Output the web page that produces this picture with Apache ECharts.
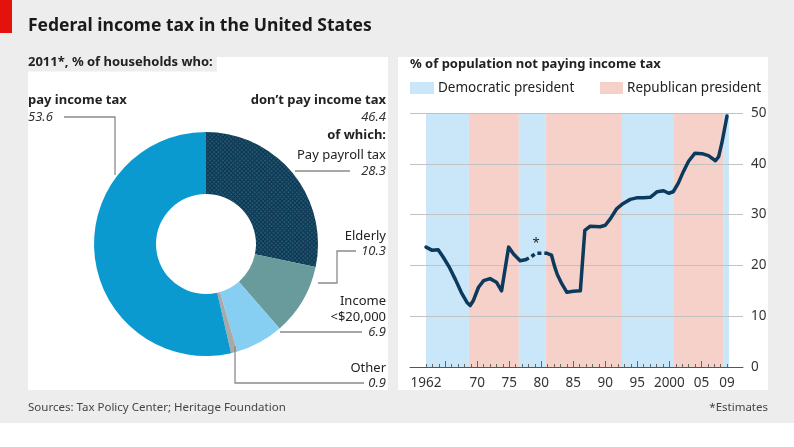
<!DOCTYPE html>
<html><head><meta charset="utf-8">
<script src="https://cdn.jsdelivr.net/npm/echarts@6/dist/echarts.min.js"></script>
<style>html,body{margin:0;padding:0;background:#fff}#c{width:794px;height:447px}</style>
</head><body><div id="c"></div><script>
// ---- data ----
const pieNames = ['Pay payroll tax', 'Elderly', 'Income <$20,000', 'Other', 'pay income tax'];
const pieValues = [28.3, 10.3, 6.9, 0.9, 53.6];
const dontPayTotal = 46.4;

const bandEdges = [1962, 1968.7, 1976.5, 1980.7, 1992.6, 2000.6, 2008.5, 2009.3];
const bandParty = ['D', 'R', 'D', 'R', 'D', 'R', 'D'];

const earlyYears = [1962.0, 1962.9, 1963.9, 1964.7, 1965.7, 1966.6, 1967.5, 1968.4, 1968.9, 1969.4, 1970.2, 1971.0, 1972.0, 1973.0, 1973.8, 1974.1, 1974.9, 1975.7, 1976.7, 1977.5];
const earlyValues = [23.6, 23.0, 23.1, 21.6, 19.5, 17.2, 14.7, 12.7, 12.1, 13.1, 15.7, 17.0, 17.4, 16.7, 15.0, 14.7, 23.6, 22.2, 20.9, 21.1];
const estYears = [1977.5, 1978.3, 1979.2, 1980.8];
const estValues = [21.1, 21.6, 22.4, 22.4];
const lateYears = [1980.8, 1981.6, 1982.1, 1982.5, 1983.2, 1984.0, 1985.0, 1986.1, 1986.8, 1987.6, 1989.2, 1990.0, 1990.8, 1991.8, 1992.8, 1993.9, 1994.9, 1996.0, 1997.0, 1997.5, 1998.1, 1999.1, 1999.9, 2000.6, 2001.4, 2002.2, 2003.0, 2004.0, 2005.1, 2006.1, 2007.2, 2007.7, 2008.2, 2009.0];
const lateValues = [22.4, 22.0, 19.7, 18.2, 16.4, 14.7, 14.9, 15.0, 26.9, 27.7, 27.6, 27.9, 29.2, 31.2, 32.2, 33.0, 33.3, 33.3, 33.4, 33.9, 34.5, 34.7, 34.2, 34.5, 36.2, 38.5, 40.5, 42.1, 42.0, 41.6, 40.6, 41.4, 44.1, 49.4];

const xTickLabelValues = [1962, 1970, 1975, 1980, 1985, 1990, 1995, 2000, 2005, 2009];
const xTickLabels = ['1962', '70', '75', '80', '85', '90', '95', '2000', '05', '09'];
const yTicks = [0, 10, 20, 30, 40, 50];

// ---- styles ----
const FONT = 'Noto Sans';
const BLUE_BAND = '#c9e7f8', PINK_BAND = '#f6d1ca';
const sliceColors = ['#0c3653', '#6a9b9c', '#86cff2', '#a9a9a9', '#0a9ad0'];
const minorYears = [];
for (let y = 1962; y <= 2009; y++) minorYears.push(y);
const majorYears = minorYears.filter(y => y % 5 === 0);

const zip = (a, b) => a.map((v, i) => [v, b[i]]);

const bandData = bandParty.map((p, i) => [
  { xAxis: bandEdges[i], itemStyle: { color: p === 'D' ? BLUE_BAND : PINK_BAND } },
  { xAxis: bandEdges[i + 1] }
]);

const lineStyle = { color: '#0b3a5c', width: 3.5, cap: 'round', join: 'round' };
const R = 386; // right edge for left-panel labels
function t(x, y, text, opts) {
  return { type: 'text', x: x, y: y, z: 10, style: Object.assign({
    text: text, font: '13px "' + FONT + '"', fill: '#222', textAlign: 'left', textVerticalAlign: 'middle'
  }, opts || {}) };
}
function pl(points) {
  return { type: 'polyline', z: 9, shape: { points: points }, style: { stroke: '#8a8a8a', lineWidth: 1.3, fill: null } };
}

const chart = echarts.init(document.getElementById('c'), null, { renderer: 'canvas' });
chart.setOption({
  animation: false,
  textStyle: { fontFamily: FONT },
  graphic: [
    { type: 'rect', z: -10, shape: { x: 0, y: 0, width: 794, height: 423 }, style: { fill: '#ededed' } },
    { type: 'rect', z: -9, shape: { x: 0, y: 0, width: 12, height: 33 }, style: { fill: '#e3120b' } },
    { type: 'rect', z: -9, shape: { x: 28, y: 57, width: 360, height: 333 }, style: { fill: '#ffffff' } },
    { type: 'rect', z: -9, shape: { x: 398, y: 57, width: 370, height: 333 }, style: { fill: '#ffffff' } },
    t(28, 26, 'Federal income tax in the United States', { font: 'bold 17.5px "' + FONT + '"', fill: '#1a1a1a' }),
    t(28, 62, '2011*, % of households who:', { font: 'bold 13px "' + FONT + '"', backgroundColor: '#ededed', padding: [3, 4, 3, 0] }),
    t(410, 64, '% of population not paying income tax', { font: 'bold 13px "' + FONT + '"' }),
    { type: 'rect', z: 5, shape: { x: 410, y: 82, width: 24, height: 12 }, style: { fill: BLUE_BAND } },
    t(438, 88, 'Democratic president', { font: '13.5px "' + FONT + '"' }),
    { type: 'rect', z: 5, shape: { x: 600, y: 82, width: 23, height: 12 }, style: { fill: PINK_BAND } },
    t(627, 88, 'Republican president', { font: '13.5px "' + FONT + '"' }),
    // pie labels
    t(28, 100, pieNames[4], { font: 'bold 13px "' + FONT + '"' }),
    t(28, 117, pieValues[4].toFixed(1), { font: 'italic 13px "' + FONT + '"', fill: '#333' }),
    pl([[64, 117], [115, 117], [115, 175]]),
    t(R, 100, "don’t pay income tax", { font: 'bold 13px "' + FONT + '"', textAlign: 'right' }),
    t(R, 117, dontPayTotal.toFixed(1), { font: 'italic 13px "' + FONT + '"', fill: '#333', textAlign: 'right' }),
    t(R, 135, 'of which:', { font: 'bold 13px "' + FONT + '"', textAlign: 'right' }),
    t(R, 155, pieNames[0], { textAlign: 'right' }),
    t(R, 171, pieValues[0].toFixed(1), { font: 'italic 13px "' + FONT + '"', fill: '#333', textAlign: 'right' }),
    pl([[295, 171], [350, 171]]),
    t(R, 236, pieNames[1], { textAlign: 'right' }),
    t(R, 251, pieValues[1].toFixed(1), { font: 'italic 13px "' + FONT + '"', fill: '#333', textAlign: 'right' }),
    pl([[356, 251], [337, 251], [337, 283], [318, 283]]),
    t(R, 301, 'Income', { textAlign: 'right' }),
    t(R, 317, '<$20,000', { textAlign: 'right' }),
    t(R, 332, pieValues[2].toFixed(1), { font: 'italic 13px "' + FONT + '"', fill: '#333', textAlign: 'right' }),
    pl([[280, 332], [362, 332]]),
    t(R, 368, pieNames[3], { textAlign: 'right' }),
    t(R, 383, pieValues[3].toFixed(1), { font: 'italic 13px "' + FONT + '"', fill: '#333', textAlign: 'right' }),
    pl([[235, 346], [235, 383], [364, 383]]),
    t(28, 408, 'Sources: Tax Policy Center; Heritage Foundation', { font: '11.5px "' + FONT + '"', fill: '#444' }),
    t(768, 408, '*Estimates', { font: '11.5px "' + FONT + '"', fill: '#444', textAlign: 'right' })
  ],
  grid: { left: 410, right: 51, top: 113, bottom: 80 },
  xAxis: [{
    type: 'value', min: 1959.5, max: 2011.5, z: 4,
    axisLine: { show: true, lineStyle: { color: '#555', width: 1 } },
    axisTick: { show: true, inside: true, length: 3, customValues: minorYears, lineStyle: { color: '#666' } },
    axisLabel: { show: true, customValues: xTickLabelValues, margin: 9, color: '#333', fontSize: 13.5,
      formatter: v => { const i = xTickLabelValues.indexOf(Math.round(v)); return i >= 0 ? xTickLabels[i] : ''; } },
    splitLine: { show: false }
  }, {
    type: 'value', min: 1959.5, max: 2011.5, position: 'bottom', z: 4,
    axisLine: { show: false },
    axisTick: { show: true, inside: true, length: 6, customValues: majorYears, lineStyle: { color: '#666' } },
    axisLabel: { show: false }, splitLine: { show: false }
  }],
  yAxis: {
    type: 'value', min: 0, max: 50, interval: 10, position: 'right', z: 3,
    axisLine: { show: false }, axisTick: { show: false },
    axisLabel: { color: '#333', fontSize: 13.5, margin: 8 },
    splitLine: { lineStyle: { color: '#c2c2c2', width: 1 } }
  },
  series: [
    { type: 'pie', center: [206, 244], radius: [50, 112], startAngle: 90, clockwise: true, silent: true,
      label: { show: false }, labelLine: { show: false }, emphasis: { disabled: true },
      data: pieNames.map((n, i) => ({ name: n, value: pieValues[i], itemStyle: i === 0 ? {
        color: sliceColors[i],
        decal: { symbol: 'rect', symbolSize: 0.8, color: 'rgba(80,150,165,0.55)', dashArrayX: [2, 1], dashArrayY: [2, 1], rotation: Math.PI / 4 }
      } : { color: sliceColors[i] } })) },
    { type: 'line', xAxisIndex: 0, data: [], z: 1, silent: true, markArea: { silent: true, data: bandData } },
    { type: 'line', z: 5, showSymbol: false, silent: true, data: zip(earlyYears, earlyValues), lineStyle: lineStyle },
    { type: 'line', z: 5, showSymbol: false, silent: true, data: zip(estYears, estValues),
      lineStyle: Object.assign({}, lineStyle, { type: [4, 3], cap: 'butt' }),
      markPoint: { symbol: 'circle', symbolSize: 0, silent: true,
        label: { show: true, formatter: '*', color: '#222', fontSize: 13, offset: [0, -10] },
        data: [{ coord: [estYears[2], estValues[2]] }] } },
    { type: 'line', z: 5, showSymbol: false, silent: true, data: zip(lateYears, lateValues), lineStyle: lineStyle }
  ]
});
</script></body></html>
